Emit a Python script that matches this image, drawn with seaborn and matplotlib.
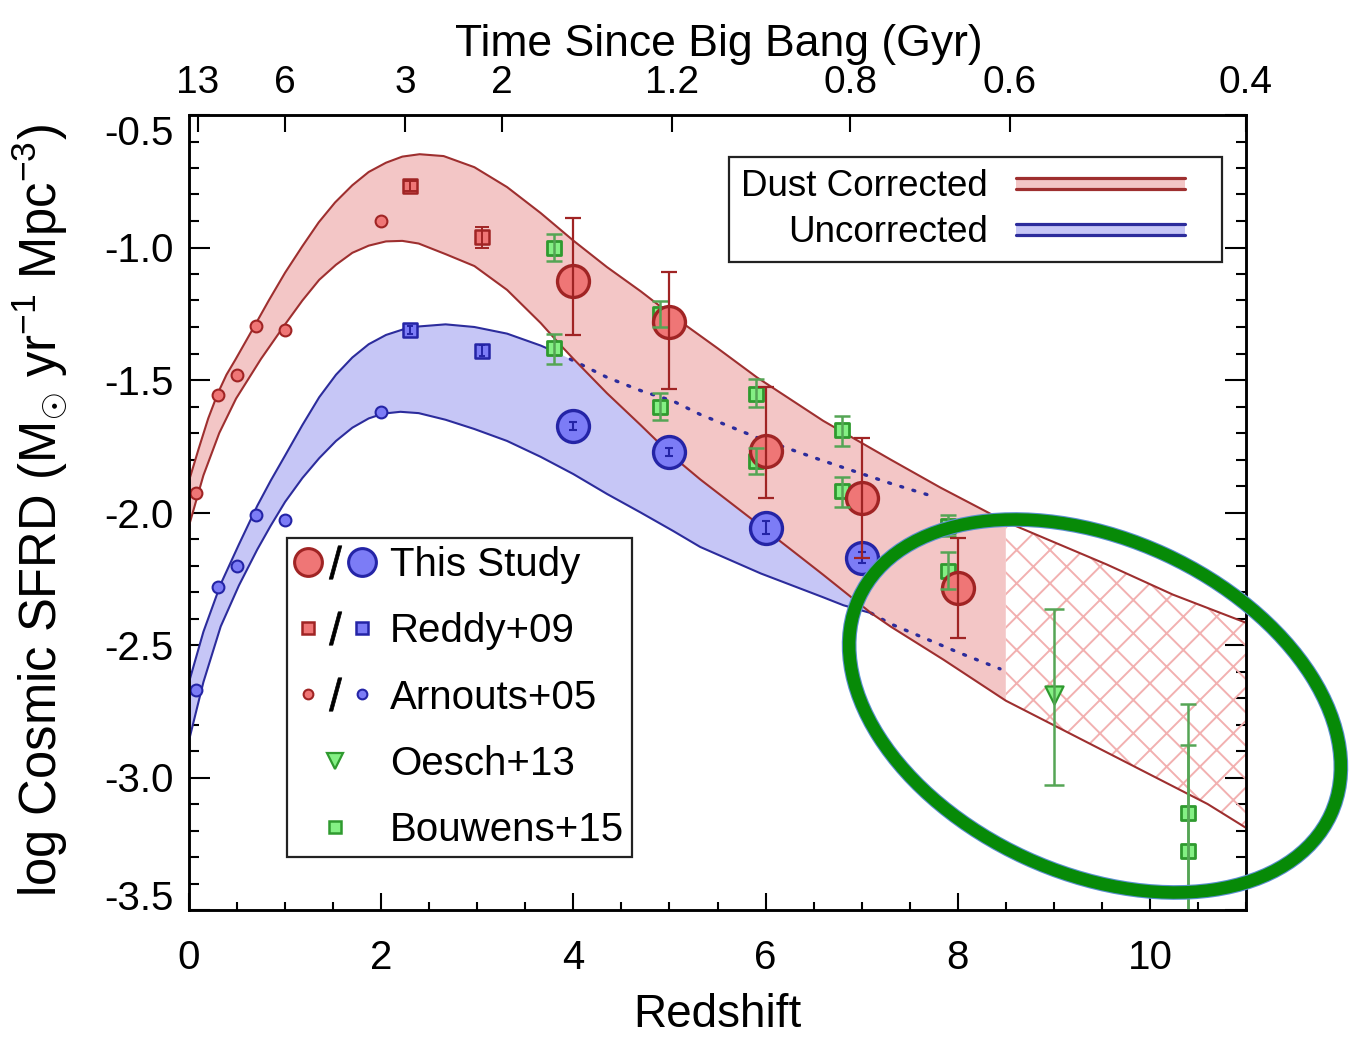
import numpy as np
import pandas as pd
import matplotlib
matplotlib.use("Agg")
import matplotlib.pyplot as plt
import seaborn as sns
from matplotlib.patches import Ellipse, Rectangle
from matplotlib.lines import Line2D
from matplotlib.legend_handler import HandlerBase, HandlerTuple
from matplotlib.transforms import IdentityTransform
from matplotlib.ticker import MultipleLocator

# ---------------- data ----------------
# Dust corrected band (red)
red_up_z = [0.0, 0.1, 0.2, 0.3, 0.39, 0.48, 0.66, 0.83, 1.0, 1.18, 1.35, 1.52, 1.7, 1.87, 2.05,
            2.22, 2.4, 2.65, 2.97, 3.31, 3.66, 4.0, 4.35, 4.7, 5.04, 5.5, 5.91, 6.6, 7.3, 7.82,
            8.5, 9.55, 10.24, 11.0]
red_up_v = [-1.88, -1.76, -1.645, -1.55, -1.48, -1.425, -1.31, -1.20, -1.095, -0.995, -0.905,
            -0.83, -0.765, -0.715, -0.68, -0.657, -0.648, -0.655, -0.697, -0.772, -0.87, -0.974,
            -1.074, -1.165, -1.26, -1.38, -1.49, -1.654, -1.80, -1.906, -2.035, -2.196, -2.31,
            -2.416]
red_lo_z = [0.0, 0.15, 0.315, 0.49, 0.75, 1.0, 1.18, 1.355, 1.53, 1.7, 1.87, 2.05, 2.22, 2.39,
            2.67, 2.97, 3.31, 3.66, 3.87, 4.0, 4.35, 4.7, 5.04, 5.32, 5.91, 6.3, 6.6, 7.1, 7.3,
            7.85, 8.5, 9.2, 9.9, 10.6, 11.0]
red_lo_v = [-2.05, -1.86, -1.70, -1.57, -1.42, -1.29, -1.20, -1.122, -1.065, -1.02, -0.993,
            -0.977, -0.975, -0.985, -1.025, -1.07, -1.16, -1.285, -1.37, -1.42, -1.55, -1.67,
            -1.79, -1.875, -2.04, -2.15, -2.235, -2.38, -2.43, -2.555, -2.71, -2.84, -2.97,
            -3.10, -3.19]
hatch_from_z = 8.5

# Uncorrected band (blue)
blue_up_z = [0.0, 0.15, 0.33, 0.52, 0.71, 0.85, 1.0, 1.18, 1.355, 1.53, 1.7, 1.87, 2.05, 2.22,
             2.39, 2.67, 2.97, 3.31, 3.66, 3.85]
blue_up_v = [-2.64, -2.45, -2.27, -2.12, -1.975, -1.88, -1.785, -1.67, -1.565, -1.48, -1.415,
             -1.365, -1.33, -1.31, -1.298, -1.29, -1.30, -1.325, -1.37, -1.40]
blue_dot_up_z = [3.85, 4.35, 4.7, 5.04, 5.32, 5.91, 6.6, 7.3, 7.75]
blue_dot_up_v = [-1.40, -1.49, -1.54, -1.58, -1.63, -1.717, -1.805, -1.89, -1.94]
blue_lo_z = [0.0, 0.15, 0.33, 0.52, 0.71, 0.85, 1.0, 1.18, 1.355, 1.53, 1.7, 1.87, 2.02, 2.2,
             2.39, 2.67, 2.97, 3.31, 3.66, 4.0, 4.35, 4.7, 5.04, 5.32, 5.95, 6.6, 6.81, 7.1]
blue_lo_v = [-2.86, -2.64, -2.43, -2.275, -2.14, -2.05, -1.96, -1.87, -1.795, -1.73, -1.68,
             -1.645, -1.627, -1.62, -1.625, -1.65, -1.685, -1.73, -1.79, -1.855, -1.93, -2.0,
             -2.07, -2.13, -2.23, -2.32, -2.35, -2.38]
blue_dot_lo_z = [7.1, 7.3, 8.02, 8.44]
blue_dot_lo_v = [-2.38, -2.42, -2.53, -2.59]

# This Study
ts_z_red = [4, 5, 6, 7, 8]
ts_v_red = [-1.125, -1.28, -1.767, -1.944, -2.286]
ts_eup_red = [0.235, 0.187, 0.242, 0.227, 0.191]
ts_edn_red = [0.205, 0.254, 0.177, 0.226, 0.187]
ts_z_blue = [4, 5, 6, 7]
ts_v_blue = [-1.673, -1.773, -2.057, -2.17]
ts_err_blue = [0.015, 0.015, 0.025, 0.02]

# Reddy+09
reddy_z = [2.3, 3.05]
reddy_v_red = [-0.768, -0.961]
reddy_err_red = [0.02, 0.04]
reddy_v_blue = [-1.313, -1.389]
reddy_err_blue = [0.015, 0.02]

# Arnouts+05
arn_z = [0.07, 0.3, 0.5, 0.7, 1.0, 2.0]
arn_v_red = [-1.925, -1.556, -1.48, -1.295, -1.31, -0.90]
arn_v_blue = [-2.67, -2.28, -2.20, -2.01, -2.03, -1.62]

# Oesch+13
oesch_z = [9.0]
oesch_v = [-2.687]
oesch_eup = [0.324]
oesch_edn = [0.34]

# Bouwens+15
bou_z = [3.8, 3.8, 4.9, 4.9, 5.9, 5.9, 6.8, 6.8, 7.9, 7.9, 10.4, 10.4]
bou_v = [-1.00, -1.38, -1.25, -1.60, -1.553, -1.805, -1.69, -1.92, -2.05, -2.22, -3.134, -3.279]
bou_eup = [0.05, 0.055, 0.05, 0.05, 0.057, 0.05, 0.055, 0.055, 0.04, 0.07, 0.41, 0.40]
bou_edn = [0.05, 0.06, 0.05, 0.05, 0.05, 0.05, 0.06, 0.06, 0.04, 0.07, 0.50, 0.45]

# axes ticks / labels
x_ticks = [0, 2, 4, 6, 8, 10]
y_ticks = [-3.5, -3.0, -2.5, -2.0, -1.5, -1.0, -0.5]
y_tick_labels = ['-3.5', '-3.0', '-2.5', '-2.0', '-1.5', '-1.0', '-0.5']
time_tick_z = [0.09, 1.0, 2.25, 3.26, 5.03, 6.88, 8.54, 11.0]
time_tick_labels = ['13', '6', '3', '2', '1.2', '0.8', '0.6', '0.4']

# ---------------- style ----------------
sns.set_theme(style="ticks")
plt.rcParams['font.family'] = ['Liberation Sans', 'DejaVu Sans']
plt.rcParams['mathtext.fontset'] = 'custom'
plt.rcParams['mathtext.rm'] = 'Liberation Sans'
plt.rcParams['mathtext.it'] = 'Liberation Sans:italic'
plt.rcParams['hatch.linewidth'] = 1.4
for k in ['text.color', 'axes.labelcolor', 'xtick.color', 'ytick.color', 'axes.edgecolor']:
    plt.rcParams[k] = 'black'

RED_FILL = '#f3c6c6'
RED_LINE = '#9e2f2f'
BLUE_FILL = '#c6c6f6'
BLUE_LINE = '#2c2c9c'
RED_MK = '#ef7676'
RED_EDGE = '#a02424'
BLUE_MK = '#7c7cf6'
BLUE_EDGE = '#2424a6'
GREEN_MK = '#84f084'
GREEN_EDGE = '#2f9a2f'
GREEN_ERR = '#55a555'
HATCH = '#f2b0b0'

fig = plt.figure(figsize=(13.57, 10.37), dpi=100)
ax = fig.add_axes([189 / 1357, 1 - 910 / 1037, 1057 / 1357, 795 / 1037])
ax.set_xlim(0, 11)
ax.set_ylim(-3.5, -0.5)

# ---------------- bands ----------------
bu_z = np.array(blue_up_z + blue_dot_up_z[1:])
bu_v = np.array(blue_up_v + blue_dot_up_v[1:])
keep = bu_z <= 7.3
poly_z = np.r_[bu_z[keep], np.array(blue_lo_z)[::-1]]
poly_v = np.r_[bu_v[keep], np.array(blue_lo_v)[::-1]]
ax.fill(poly_z, poly_v, color=BLUE_FILL, lw=0, zorder=1)

ru_z, ru_v = np.array(red_up_z), np.array(red_up_v)
rl_z, rl_v = np.array(red_lo_z), np.array(red_lo_v)
s_u, s_l = ru_z <= hatch_from_z, rl_z <= hatch_from_z
ax.fill(np.r_[ru_z[s_u], rl_z[s_l][::-1]], np.r_[ru_v[s_u], rl_v[s_l][::-1]],
        color=RED_FILL, lw=0, zorder=2)
h_u, h_l = ru_z >= hatch_from_z, rl_z >= hatch_from_z
ax.fill(np.r_[ru_z[h_u], rl_z[h_l][::-1]], np.r_[ru_v[h_u], rl_v[h_l][::-1]],
        facecolor='none', edgecolor=HATCH, hatch='x', lw=0, zorder=2)

# ---------------- curves ----------------
def curve(zs, vs, color, ls='-', lw=1.5):
    df = pd.DataFrame({'z': zs, 'v': vs})
    sns.lineplot(data=df, x='z', y='v', ax=ax, color=color, lw=lw, sort=False,
                 estimator=None, linestyle=ls, zorder=3, legend=False,
                 dash_capstyle='round', solid_capstyle='round', solid_joinstyle='round')

curve(blue_up_z, blue_up_v, BLUE_LINE)
curve(blue_lo_z, blue_lo_v, BLUE_LINE)
curve(blue_dot_up_z, blue_dot_up_v, BLUE_LINE, ls=(0, (0.6, 3.2)), lw=2.4)
curve(blue_dot_lo_z, blue_dot_lo_v, BLUE_LINE, ls=(0, (0.6, 3.2)), lw=2.4)
curve(red_up_z, red_up_v, RED_LINE)
curve(red_lo_z, red_lo_v, RED_LINE)

# ---------------- points ----------------
def pts(zs, vs, marker, ms, face, edge, mew):
    sns.scatterplot(x=zs, y=vs, ax=ax, marker=marker, s=ms ** 2, color=face,
                    edgecolor=edge, linewidth=mew, zorder=4, legend=False)

pts(arn_z, arn_v_red, 'o', 8.5, RED_MK, RED_EDGE, 1.5)
pts(arn_z, arn_v_blue, 'o', 8.5, BLUE_MK, BLUE_EDGE, 1.5)
pts(reddy_z, reddy_v_red, 's', 10.5, RED_MK, RED_EDGE, 1.8)
pts(reddy_z, reddy_v_blue, 's', 10.5, BLUE_MK, BLUE_EDGE, 1.8)
ax.errorbar(reddy_z, reddy_v_red, yerr=reddy_err_red, fmt='none', ecolor=RED_EDGE,
            elinewidth=1.4, capsize=5, capthick=1.4, zorder=5)
ax.errorbar(reddy_z, reddy_v_blue, yerr=reddy_err_blue, fmt='none', ecolor=BLUE_EDGE,
            elinewidth=1.4, capsize=2.5, capthick=1.4, zorder=5)

pts(bou_z, bou_v, 's', 10.5, GREEN_MK, GREEN_EDGE, 2.0)
ax.errorbar(bou_z, bou_v, yerr=[bou_edn, bou_eup], fmt='none', ecolor=GREEN_ERR,
            elinewidth=1.8, capsize=6, capthick=1.8, zorder=5)
pts(oesch_z, oesch_v, 'v', 13, GREEN_MK, GREEN_EDGE, 1.6)
ax.errorbar(oesch_z, oesch_v, yerr=[oesch_edn, oesch_eup], fmt='none', ecolor=GREEN_ERR,
            elinewidth=1.8, capsize=7, capthick=1.8, zorder=5)

pts(ts_z_blue, ts_v_blue, 'o', 23, BLUE_MK, BLUE_EDGE, 2.4)
ax.errorbar(ts_z_blue, ts_v_blue, yerr=ts_err_blue, fmt='none', ecolor=BLUE_EDGE,
            elinewidth=1.5, capsize=3, capthick=1.5, zorder=5)
pts(ts_z_red, ts_v_red, 'o', 23, RED_MK, RED_EDGE, 2.4)
ax.errorbar(ts_z_red, ts_v_red, yerr=[ts_edn_red, ts_eup_red], fmt='none', ecolor=RED_EDGE,
            elinewidth=1.6, capsize=6, capthick=1.6, zorder=5)

# ---------------- axes / ticks ----------------
for sp in ax.spines.values():
    sp.set_linewidth(1.8)
ax.set_xticks(x_ticks)
ax.set_xticklabels([str(t) for t in x_ticks])
ax.xaxis.set_minor_locator(MultipleLocator(0.5))
ax.set_yticks(y_ticks)
ax.set_yticklabels(y_tick_labels)
ax.yaxis.set_minor_locator(MultipleLocator(0.1))
ax.tick_params(which='both', direction='in', top=False, right=True, width=1.5, labelsize=29)
ax.tick_params(axis='y', which='major', length=15, pad=11)
ax.tick_params(axis='y', which='minor', length=7.5)
ax.tick_params(axis='x', which='major', length=12, pad=21)
ax.tick_params(axis='x', which='minor', length=6)
ylabs = ax.yaxis.get_major_ticks()
ylabs[0].label1.set_va('baseline')
ylabs[-1].label1.set_va('top')

ax.set_xlabel('Redshift', fontsize=33)
ax.xaxis.set_label_coords(0.5, -0.104)
ax.set_ylabel(r'log Cosmic SFRD (M$_{\odot}$ yr$^{-1}$ Mpc$^{-3}$)', fontsize=36.5)
ax.yaxis.set_label_coords(-0.1126, 0.503)

ax2 = ax.twiny()
ax2.set_xlim(0, 11)
ax2.set_xticks(time_tick_z)
ax2.set_xticklabels(time_tick_labels)
ax2.tick_params(axis='x', which='major', direction='in', length=12, width=1.5,
                labelsize=28, pad=10)
ax2.xaxis.set_minor_locator(matplotlib.ticker.NullLocator())
ax2.set_xlabel('Time Since Big Bang (Gyr)', fontsize=32)
ax2.xaxis.set_label_coords(0.501, 1.0745)
for sp in ax2.spines.values():
    sp.set_linewidth(1.8)

# ---------------- legends ----------------
class BandHandler(HandlerBase):
    def __init__(self, face, edge, frac=0.876):
        super().__init__()
        self.face, self.edge, self.frac = face, edge, frac

    def create_artists(self, legend, orig_handle, xdescent, ydescent, width, height,
                       fontsize, trans):
        x0 = -xdescent
        w = width * self.frac
        yc = -ydescent + height / 2
        half = 4.2
        r = Rectangle((x0, yc - half), w, 2 * half, facecolor=self.face,
                      edgecolor='none', transform=trans)
        l1 = Line2D([x0, x0 + w], [yc + half] * 2, color=self.edge, lw=2.3, transform=trans)
        l2 = Line2D([x0, x0 + w], [yc - half] * 2, color=self.edge, lw=2.3, transform=trans)
        return [r, l1, l2]

hb_red = Rectangle((0, 0), 1, 1)
hb_blue = Rectangle((0, 0), 1, 1)
leg1 = ax.legend(handles=[hb_red, hb_blue], labels=['Dust Corrected', 'Uncorrected'],
                 handler_map={hb_red: BandHandler(RED_FILL, RED_LINE),
                              hb_blue: BandHandler(BLUE_FILL, BLUE_LINE)},
                 loc='upper right', bbox_to_anchor=(0.977, 0.947), borderaxespad=0,
                 markerfirst=False, fontsize=26.5, handlelength=5.27, handletextpad=0.76,
                 borderpad=0.33, labelspacing=0.3, frameon=True, fancybox=False,
                 edgecolor='#222222', framealpha=1)
leg1.get_frame().set_linewidth(1.6)
leg1.set_zorder(10)
ax.add_artist(leg1)

def mk(marker, ms, face, edge, mew):
    return Line2D([], [], ls='none', marker=marker, markersize=ms, markerfacecolor=face,
                  markeredgecolor=edge, markeredgewidth=mew)

slash = Line2D([], [], ls='none', marker='$/$', markersize=24, color='black',
               markeredgewidth=0.5)
handles2 = [
    (mk('o', 20, RED_MK, RED_EDGE, 2.2), slash, mk('o', 20, BLUE_MK, BLUE_EDGE, 2.2)),
    (mk('s', 9, RED_MK, RED_EDGE, 1.8), slash, mk('s', 9, BLUE_MK, BLUE_EDGE, 1.8)),
    (mk('o', 7, RED_MK, RED_EDGE, 1.5), slash, mk('o', 7, BLUE_MK, BLUE_EDGE, 1.5)),
    mk('v', 11, GREEN_MK, GREEN_EDGE, 1.6),
    mk('s', 9, GREEN_MK, GREEN_EDGE, 1.8),
]
labels2 = ['This Study', 'Reddy+09', 'Arnouts+05', 'Oesch+13', 'Bouwens+15']
leg2 = ax.legend(handles=handles2, labels=labels2,
                 handler_map={tuple: HandlerTuple(ndivide=None, pad=0)},
                 loc='lower left', bbox_to_anchor=(0.0927, 0.0667), borderaxespad=0,
                 fontsize=29, handlelength=2.0, handletextpad=0.35, labelspacing=0.7,
                 borderpad=0.2, numpoints=1, frameon=True, fancybox=False,
                 edgecolor='#222222', framealpha=1)
leg2.get_frame().set_linewidth(1.6)
leg2.set_zorder(10)

# ---------------- annotation ellipse ----------------
e_out = Ellipse((1095, 331), 519, 334, angle=-24.7, fill=False, edgecolor='#5b8fd0',
                lw=10.6, transform=IdentityTransform(), zorder=20)
e_in = Ellipse((1095, 331), 519, 334, angle=-24.7, fill=False, edgecolor='#078a07',
               lw=9.0, transform=IdentityTransform(), zorder=21)
fig.add_artist(e_out)
fig.add_artist(e_in)

fig.savefig('out.png', dpi=100)
